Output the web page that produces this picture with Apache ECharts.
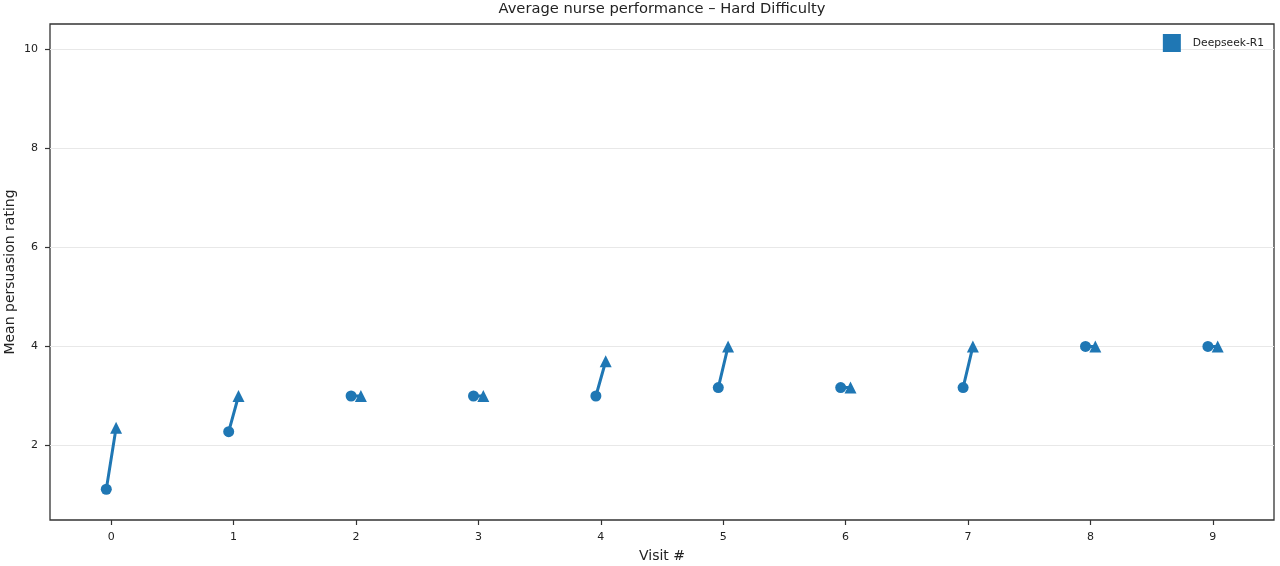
<!DOCTYPE html>
<html>
<head>
<meta charset="utf-8">
<script src="https://cdn.jsdelivr.net/npm/echarts@6/dist/echarts.min.js"></script>
<style>
html, body { margin: 0; padding: 0; background: #fff; }
#main { width: 1280px; height: 566px; }
</style>
</head>
<body>
<div id="main"></div>
<script>
var visits = [0, 1, 2, 3, 4, 5, 6, 7, 8, 9];
var firstRating = [1.12, 2.28, 3.0, 3.0, 3.0, 3.17, 3.17, 3.17, 4.0, 4.0];
var lastRating = [2.36, 3.0, 3.0, 3.0, 3.7, 4.0, 3.17, 4.0, 4.0, 4.0];
var yTicks = [2, 4, 6, 8, 10];
var offset = 0.04;
var blue = '#1f77b4';

var myChart = echarts.init(document.getElementById('main'));

var circles = [], triangles = [], segments = [];
for (var i = 0; i < visits.length; i++) {
	circles.push([visits[i] - offset, firstRating[i]]);
	triangles.push([visits[i] + offset, lastRating[i]]);
	segments.push([visits[i] - offset, firstRating[i]]);
	segments.push([visits[i] + offset, lastRating[i]]);
	segments.push('-');
}

var font = 'DejaVu Sans';

myChart.setOption({
	animation: false,
	title: {
		text: 'Average nurse performance \u2013 Hard Difficulty',
		left: 662,
		textAlign: 'center',
		top: 2,
		padding: 0,
		textStyle: { fontFamily: font, fontSize: 14.7, fontWeight: 'normal', color: '#222' }
	},
	legend: {
		data: [{ name: 'Deepseek-R1', icon: 'rect' }],
		right: 11,
		top: 29,
		itemWidth: 18,
		itemHeight: 18,
		textStyle: { fontFamily: font, fontSize: 10.7, color: '#222', padding: [0, 0, 0, 7] }
	},
	grid: {
		left: 50, right: 6, top: 24, bottom: 46,
		show: true,
		borderColor: '#333',
		borderWidth: 1.3,
		containLabel: false,
		outerBoundsMode: 'none'
	},
	xAxis: {
		type: 'value',
		min: -0.5,
		max: 9.5,
		name: 'Visit #',
		nameLocation: 'middle',
		nameGap: 29,
		nameMoveOverlap: false,
		nameTextStyle: { fontFamily: font, fontSize: 14, color: '#222' },
		axisLine: { show: false, onZero: false },
		axisTick: { show: true, length: 5, lineStyle: { color: '#333', width: 1.2 }, customValues: visits },
		axisLabel: { fontFamily: font, fontSize: 11, color: '#222', margin: 12, customValues: visits },
		splitLine: { show: false }
	},
	yAxis: {
		type: 'value',
		min: 0.5,
		max: 10.5,
		name: 'Mean persuasion rating',
		nameLocation: 'middle',
		nameGap: 33,
		nameMoveOverlap: false,
		nameTextStyle: { fontFamily: font, fontSize: 14, color: '#222' },
		axisLine: { show: false, onZero: false },
		axisTick: { show: true, length: 5, lineStyle: { color: '#333', width: 1.2 }, customValues: yTicks },
		axisLabel: { fontFamily: font, fontSize: 11, color: '#222', margin: 12, customValues: yTicks },
		splitLine: { show: true, lineStyle: { color: '#e8e8e8', width: 1 } }
	},
	series: [
		{
			type: 'line',
			data: segments,
			showSymbol: false,
			symbol: 'none',
			lineStyle: { color: blue, width: 3 },
			connectNulls: false,
			silent: true,
			z: 2
		},
		{
			name: 'Deepseek-R1',
			type: 'scatter',
			data: circles,
			symbol: 'circle',
			symbolSize: 11,
			itemStyle: { color: blue, opacity: 1 },
			z: 3
		},
		{
			type: 'scatter',
			data: triangles,
			symbol: 'triangle',
			symbolSize: 12,
			itemStyle: { color: blue, opacity: 1 },
			z: 3
		}
	]
});
</script>
</body>
</html>
